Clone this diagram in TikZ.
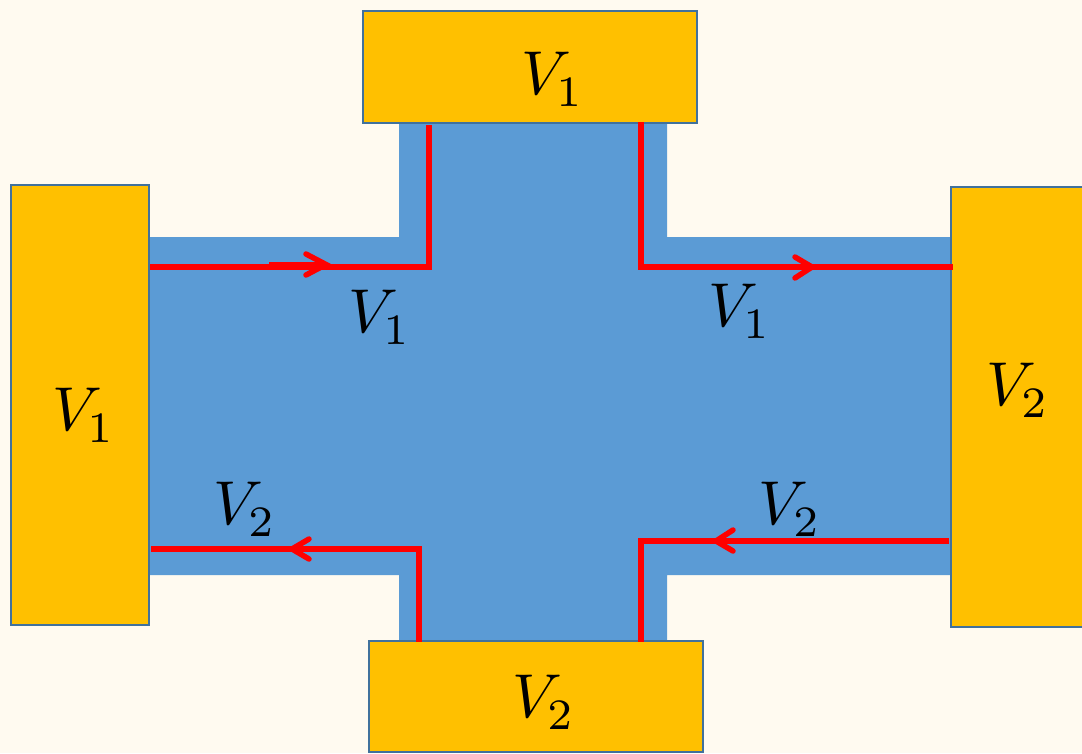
\documentclass[tikz,border=0pt]{standalone}
\definecolor{bgcream}{HTML}{FFFAF0}
\definecolor{chanblue}{HTML}{5B9BD5}
\definecolor{contact}{HTML}{FFC000}
\definecolor{contactedge}{HTML}{41719C}
\newcommand{\voltlabel}[1]{$V_{\mkern-0.6mu\lower.4pt\hbox{$\scriptstyle #1$}}$}
\tikzset{
  contactbox/.style={draw=contactedge,line width=2pt,fill=contact,inner sep=0pt,anchor=north west},
  edgeline/.style={draw=red,line width=6pt,line join=miter,line cap=butt},
  headline/.style={draw=red,line width=5.5pt,line join=miter,line cap=round},
  volt/.style={inner sep=0pt,scale=6.2,text=black}
}
\begin{document}
\begin{tikzpicture}[x=1pt,y=-1pt]
\useasboundingbox (0,0) rectangle (1082,753);
\clip (0,0) rectangle (1082,753);
\fill[bgcream] (0,0) rectangle (1082,753);
% channel
\fill[chanblue] (149,237) -- (399,237) -- (399,123) -- (667,123) -- (667,237) -- (951,237)
  -- (951,575) -- (667,575) -- (667,641) -- (399,641) -- (399,575) -- (149,575) -- cycle;
% contacts
\node[contactbox,minimum width=334pt,minimum height=112pt] (top) at (362,10) {};
\node[contactbox,minimum width=138pt,minimum height=440pt] (left) at (10,184) {};
\node[contactbox,minimum width=160pt,minimum height=440pt] (right) at (950,186) {};
\node[contactbox,minimum width=334pt,minimum height=111pt] (bottom) at (368,640) {};
% free ends and corners of the edge channels
\coordinate (a1) at (150,267); \coordinate (a2) at (429,267); \coordinate (a3) at (429,125);
\coordinate (b1) at (640.6,122); \coordinate (b2) at (640.6,267); \coordinate (b3) at (953,267);
\coordinate (c1) at (151,549); \coordinate (c2) at (419,549); \coordinate (c3) at (419,642);
\coordinate (d1) at (949,541); \coordinate (d2) at (640.6,541); \coordinate (d3) at (640.6,642);
\draw[edgeline] (a1) -- (a2) -- (a3);
\draw[edgeline] (b1) -- (b2) -- (b3);
\draw[edgeline] (c1) -- (c2) -- (c3);
\draw[edgeline] (d1) -- (d2) -- (d3);
% arrowheads
\coordinate (at) at (326,264.5); \coordinate (as) at (269,264.5);
\draw[edgeline] (as) -- (at);
\draw[headline] (306,254) -- (at) -- (306,275);
\draw[headline] (795,257) -- (812,267) -- (795,278);
\draw[headline] (309,539) -- (292,549) -- (309,559);
\draw[headline] (733,530) -- (716,541) -- (733,551);
% labels
\node[volt] (ltop) at (553,79) {\voltlabel{1}};
\node[volt] (lleft) at (84,415) {\voltlabel{1}};
\node[volt] (lright) at (1018,390) {\voltlabel{2}};
\node[volt] (lbottom) at (544,702) {\voltlabel{2}};
\node[volt] (la) at (380,317) {\voltlabel{1}};
\node[volt] (lb) at (740,311) {\voltlabel{1}};
\node[volt] (lc) at (245,509) {\voltlabel{2}};
\node[volt] (ld) at (790,509) {\voltlabel{2}};
\end{tikzpicture}
\end{document}
